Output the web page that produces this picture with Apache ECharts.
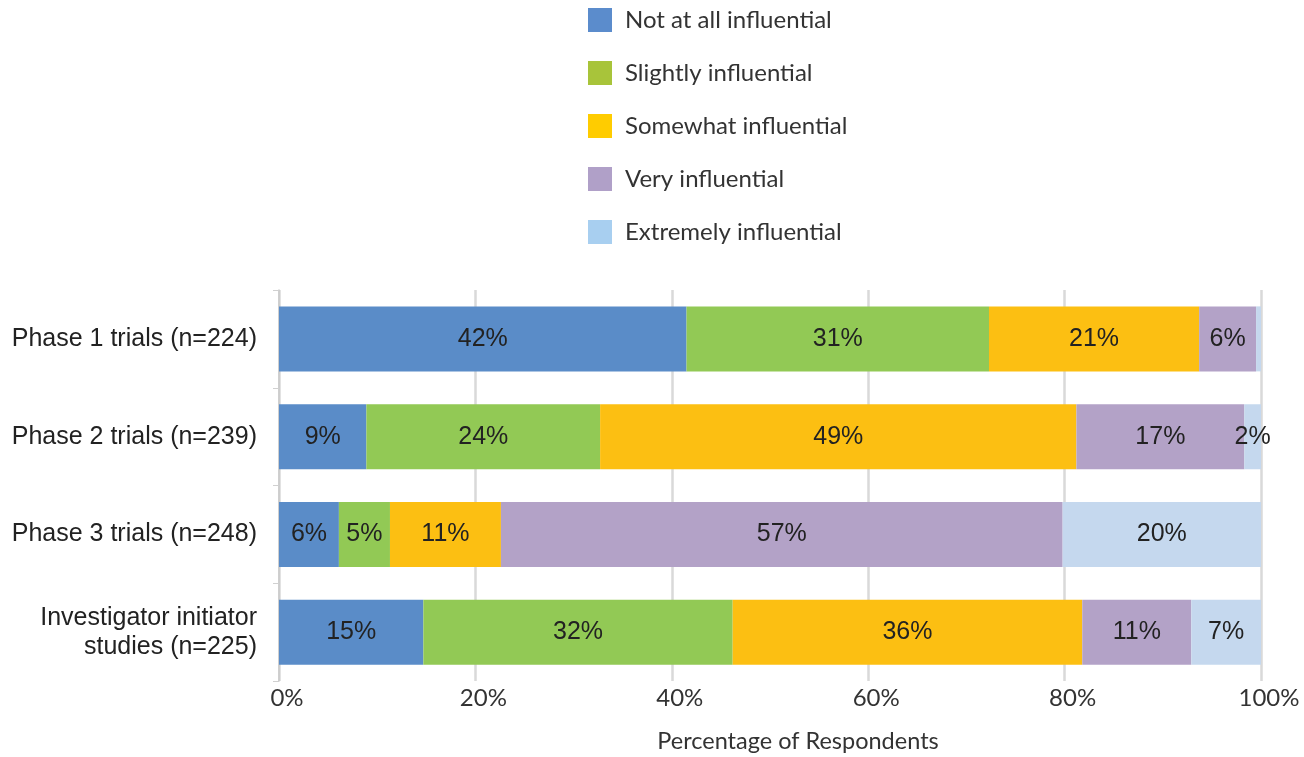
<!DOCTYPE html>
<html><head><meta charset="utf-8">
<script src="https://cdn.jsdelivr.net/npm/echarts@6/dist/echarts.min.js"></script>
<style>html,body{margin:0;padding:0;background:#fff}#c{width:1304px;height:757px}</style>
</head><body><div id="c"></div>
<script>
const categories = ['Phase 1 trials (n=224)', 'Phase 2 trials (n=239)', 'Phase 3 trials (n=248)', 'Investigator initiator\nstudies (n=225)'];
const seriesNames = ['Not at all influential', 'Slightly influential', 'Somewhat influential', 'Very influential', 'Extremely influential'];
const notAtAll = [41.5, 8.9, 6.1, 14.7];
const slightly = [30.8, 23.8, 5.2, 31.5];
const somewhat = [21.4, 48.5, 11.3, 35.6];
const very = [5.8, 17.1, 57.2, 11.1];
const extremely = [0.5, 1.7, 20.2, 7.1];
const xTicks = [0, 20, 40, 60, 80, 100];

const barColors = ['#5a8cc8', '#92c955', '#fcbf12', '#b3a2c7', '#c5d8ee'];
const legendColors = ['#5b8ccc', '#a8c43a', '#ffcc00', '#b0a0c8', '#a8cff0'];
const values = [notAtAll, slightly, somewhat, very, extremely];

const chart = echarts.init(document.getElementById('c'));
chart.setOption({
  animation: false,
  legend: {
    orient: 'vertical', left: 588, top: 8, padding: 0,
    itemWidth: 24, itemHeight: 24, itemGap: 29,
    icon: 'rect',
    textStyle: { fontFamily: 'Lato', fontSize: 24, color: '#333', padding: [0, 0, 0, 8] },
    data: seriesNames.map((n, i) => ({ name: n, itemStyle: { color: legendColors[i] } }))
  },
  grid: { left: 279, right: 43, top: 290, bottom: 76, containLabel: false, outerBoundsMode: 'none' },
  xAxis: {
    type: 'value', min: xTicks[0], max: xTicks[xTicks.length - 1], interval: 20,
    name: 'Percentage of Respondents', nameLocation: 'middle', nameGap: 48,
    nameTextStyle: { fontFamily: 'Lato', fontSize: 23.5, color: '#333', padding: [0, 0, 0, 56] },
    axisLabel: { formatter: '{value}%', fontFamily: 'Lato', fontSize: 24, color: '#333', margin: 5, padding: [0, 0, 0, 16] },
    axisLine: { show: false }, axisTick: { show: false },
    splitLine: { show: true, lineStyle: { color: '#d9d9d9', width: 2.5 } }
  },
  yAxis: {
    type: 'category', data: categories, inverse: true,
    axisLine: { show: true, lineStyle: { color: '#c8c8c8', width: 1.5 } },
    axisTick: { show: true, length: 6, lineStyle: { color: '#d0d0d0' } },
    axisLabel: { fontFamily: 'Liberation Sans', fontSize: 25, color: '#222', margin: 22, align: 'right', lineHeight: 29 }
  },
  series: seriesNames.map((n, i) => ({
    name: n, type: 'bar', stack: 'total', barWidth: 65,
    data: values[i],
    itemStyle: { color: barColors[i] },
    label: {
      show: true, position: 'inside',
      fontFamily: 'Liberation Sans', fontSize: 25, color: '#222',
      formatter: p => p.value < 1 ? '' : Math.round(p.value) + '%'
    }
  }))
});
</script></body></html>
